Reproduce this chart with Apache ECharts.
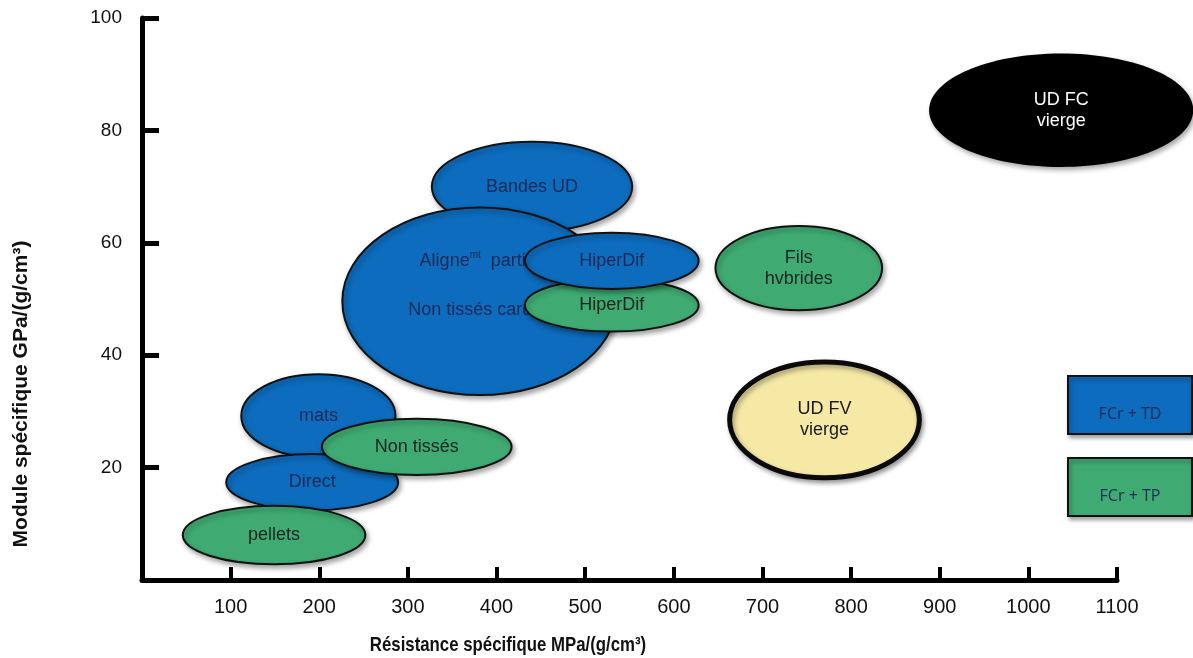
<!DOCTYPE html>
<html>
<head>
<meta charset="utf-8">
<script src="https://cdn.jsdelivr.net/npm/echarts@6/dist/echarts.min.js"></script>
<style>
html,body{margin:0;padding:0;background:#fff;}
#chart{width:1193px;height:658px;}
</style>
</head>
<body>
<div id="chart"></div>
<script>
// ---- Data (draw order: later items on top) ----
const names   = ['Bandes UD', 'Aligne partiel / Non tissés cardés', 'HiperDif (TP)', 'HiperDif (TD)', 'Fils hvbrides', 'UD FV vierge', 'UD FC vierge', 'mats', 'Direct', 'Non tissés', 'pellets'];
const groups  = ['TD', 'TD', 'TP', 'TD', 'TP', 'FV', 'FC', 'TD', 'TD', 'TP', 'TP'];
const centerX = [440, 381, 530, 530, 741, 770, 1037, 199, 192, 310, 149];   // MPa/(g/cm3)
const centerY = [70, 49.6, 48.9, 56.8, 55.5, 28.5, 83.6, 29.2, 17.4, 23.7, 8.0]; // GPa/(g/cm3)
const spanX   = [113, 155, 98, 98, 94, 107, 149, 87, 97, 107, 103];     // half-width
const spanY   = [8.0, 16.7, 4.7, 5.0, 7.5, 10.3, 10.1, 7.4, 5.0, 5.0, 5.2]; // half-height
const labels  = ['Bandes UD', '{a|Aligne}{s|mt}{a|  partiel}\n\n{a|Non tissés cardés}', 'HiperDif', 'HiperDif', 'Fils\nhvbrides', 'UD FV\nvierge', 'UD FC\nvierge', 'mats', 'Direct', 'Non tissés', 'pellets'];
const xTicks = [100, 200, 300, 400, 500, 600, 700, 800, 900, 1000, 1100];
const yTicks = [20, 40, 60, 80, 100];
const legendItems = ['FCr + TD', 'FCr + TP'];
const xTitle = 'Résistance spécifique MPa/(g/cm³)';
const yTitle = 'Module spécifique GPa/(g/cm³)';

// ---- Styles ----
const groupStyle = {
  TD: {fill: '#0d6cbd', stroke: '#111', lw: 2, text: '#1b2a56'},
  TP: {fill: '#3fab72', stroke: '#111', lw: 2, text: '#1a2420'},
  FV: {fill: '#f6e9a6', stroke: '#0a0a0a', lw: 5, text: '#1a1a1a'},
  FC: {fill: '#000000', stroke: '#000', lw: 0, text: '#ffffff'}
};
const labelOffsetY = {1: -16};

const data = names.map((n, i) => [centerX[i], centerY[i], spanX[i], spanY[i], i]);

const chart = echarts.init(document.getElementById('chart'));
const axisFont = "'Liberation Sans', Arial, sans-serif";

chart.setOption({
  backgroundColor: '#fff',
  animation: false,
  grid: {left: 142, right: 76, top: 18, bottom: 78, containLabel: false},
  xAxis: {
    type: 'value', min: 0, max: 1100, interval: 100,
    axisLine: {show: true, onZero: false, lineStyle: {color: '#000', width: 5}},
    axisTick: {show: true, inside: true, length: 13, lineStyle: {color: '#000', width: 4}},
    axisLabel: {
      margin: 17, color: '#111', fontSize: 20, fontFamily: axisFont,
      formatter: v => xTicks.indexOf(v) >= 0 ? String(v) : ''
    },
    splitLine: {show: false}
  },
  yAxis: {
    type: 'value', min: 0, max: 100, interval: 20,
    axisLine: {show: true, onZero: false, lineStyle: {color: '#000', width: 5}},
    axisTick: {show: true, inside: true, length: 17, lineStyle: {color: '#000', width: 5}},
    axisLabel: {
      margin: 20, color: '#111', fontSize: 19, fontFamily: axisFont,
      formatter: v => yTicks.indexOf(v) >= 0 ? String(v) : ''
    },
    splitLine: {show: false},
    name: yTitle,
    nameLocation: 'middle', nameGap: 110,
    nameTextStyle: {fontSize: 21, fontWeight: 'bold', color: '#111', fontFamily: axisFont,
      padding: [0, 190, 0, 0]}
  },
  series: [{
    type: 'custom',
    clip: false,
    data: data,
    renderItem: function (params, api) {
      const i = api.value(4);
      const c = api.coord([api.value(0), api.value(1)]);
      const s = api.size([api.value(2), api.value(3)]);
      const st = groupStyle[groups[i]];
      return {
        type: 'group',
        children: [{
          type: 'ellipse',
          z2: i * 2,
          shape: {cx: c[0], cy: c[1], rx: s[0], ry: s[1]},
          style: {
            fill: st.fill, stroke: st.lw ? st.stroke : null, lineWidth: st.lw,
            shadowBlur: 5, shadowOffsetX: 2, shadowOffsetY: 3, shadowColor: 'rgba(0,0,0,0.35)'
          }
        }, {
          type: 'text',
          z2: i * 2 + 1,
          x: c[0], y: c[1] + (labelOffsetY[i] || 0),
          style: {
            text: labels[i], fill: st.text, fontSize: 18, fontFamily: axisFont,
            align: 'center', verticalAlign: 'middle', lineHeight: 21,
            rich: {
              a: {fontSize: 18, fill: st.text, lineHeight: 28, fontFamily: axisFont},
              s: {fontSize: 10, fill: st.text, padding: [0, 0, 10, 0], fontFamily: axisFont}
            }
          }
        }]
      };
    }
  }],
  graphic: legendItems.map((t, k) => ({
    type: 'group', left: 1067, top: 375 + k * 82,
    children: [{
      type: 'rect', shape: {x: 0, y: 0, width: 124, height: 58},
      style: {fill: k === 0 ? '#0d6cbd' : '#3fab72', stroke: '#111', lineWidth: 2,
        shadowBlur: 4, shadowOffsetX: 2, shadowOffsetY: 3, shadowColor: 'rgba(0,0,0,0.35)'}
    }, {
      type: 'text', x: 62, y: 38,
      style: {text: t, fill: '#1b2a56', fontSize: 16, fontFamily: "'Open Sans', sans-serif",
        align: 'center', verticalAlign: 'middle'}
    }]
  })).concat([{
    type: 'text', x: 508, y: 645, scaleX: 0.8,
    style: {text: xTitle, fill: '#111', fontSize: 21, fontWeight: 'bold', fontFamily: axisFont,
      align: 'center', verticalAlign: 'middle'}
  }])
});
</script>
</body>
</html>
